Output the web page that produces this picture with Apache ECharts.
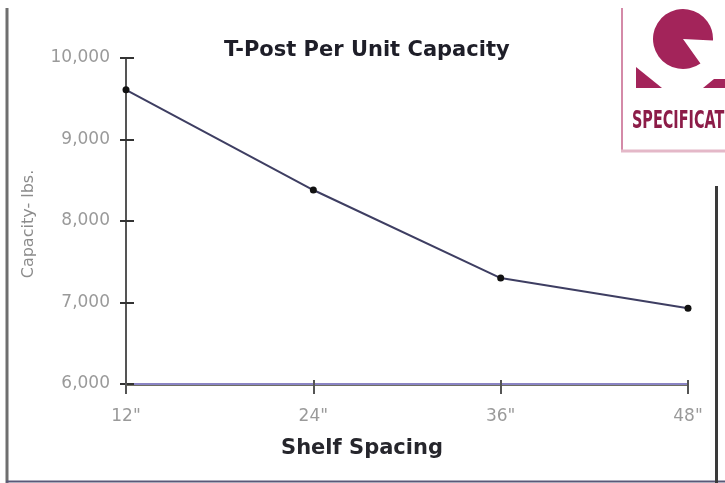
<!DOCTYPE html>
<html>
<head>
<meta charset="utf-8">
<script src="https://cdn.jsdelivr.net/npm/echarts@6/dist/echarts.min.js"></script>
<style>
html,body{margin:0;padding:0;background:#fff;}
#chart{width:725px;height:483px;}
</style>
</head>
<body>
<div id="chart"></div>
<script>
// ---- data ----
var categories = ['12"', '24"', '36"', '48"'];
var capacityValues = [9610, 8380, 7300, 6930];
var yTickValues = [6000, 7000, 8000, 9000, 10000];

var titleText = 'T-Post Per Unit Capacity';
var xAxisName = 'Shelf Spacing';
var yAxisName = 'Capacity- lbs.';

var FONT = '"DejaVu Sans", "Liberation Sans", sans-serif';
var chart = echarts.init(document.getElementById('chart'), null, {renderer: 'canvas'});

var yMin = yTickValues[0], yMax = yTickValues[yTickValues.length - 1];
var yInterval = yTickValues[1] - yTickValues[0];

function fmt(v) { return String(v).replace(/\B(?=(\d{3})+(?!\d))/g, ','); }

var logoColor = '#a3245a';

var option = {
  backgroundColor: '#ffffff',
  animation: false,
  title: {
    text: titleText,
    left: 219,
    top: 35,
    textStyle: {fontFamily: FONT, fontSize: 21, fontWeight: 'bold', color: '#1e1e28'}
  },
  grid: {left: 126, right: 37, top: 58, bottom: 99, containLabel: false},
  xAxis: [{
    type: 'category',
    data: categories,
    boundaryGap: false,
    axisLine: {show: true, lineStyle: {color: '#8a84c4', width: 2}},
    axisTick: {show: true, alignWithLabel: true, length: 10, lineStyle: {color: '#555', width: 2}},
    axisLabel: {margin: 24, fontFamily: FONT, fontSize: 17, color: '#9a9a9a'},
    splitLine: {show: false}
  }, {
    type: 'category',
    data: categories,
    boundaryGap: false,
    position: 'bottom',
    offset: 1,
    axisLine: {show: true, lineStyle: {color: '#6e6e62', width: 1}},
    axisTick: {show: true, inside: true, length: 5, lineStyle: {color: '#555', width: 2}},
    axisLabel: {show: false},
    splitLine: {show: false}
  }],
  yAxis: [{
    type: 'value',
    min: yMin, max: yMax, interval: yInterval,
    axisLine: {show: true, lineStyle: {color: '#555555', width: 2}},
    axisTick: {show: true, length: 6, lineStyle: {color: '#333', width: 2}},
    axisLabel: {margin: 16, fontFamily: FONT, fontSize: 17, color: '#9a9a9a', formatter: fmt},
    splitLine: {show: false}
  }, {
    type: 'value',
    position: 'left',
    min: yMin, max: yMax, interval: yInterval,
    axisLine: {show: false},
    axisTick: {show: true, inside: true, length: 8, lineStyle: {color: '#333', width: 2}},
    axisLabel: {show: false},
    splitLine: {show: false}
  }],
  series: [{
    type: 'line',
    data: capacityValues,
    xAxisIndex: 0, yAxisIndex: 0,
    lineStyle: {color: '#3e3e62', width: 2},
    symbol: 'circle',
    symbolSize: 7,
    itemStyle: {color: '#111111'},
    label: {show: false}
  }],
  graphic: [
    // outer frame pieces
    {type: 'line', shape: {x1: 7, y1: 8, x2: 7, y2: 483}, style: {stroke: '#6f6f6f', lineWidth: 3}},
    {type: 'line', shape: {x1: 6, y1: 481.5, x2: 725, y2: 481.5}, style: {stroke: '#5a5878', lineWidth: 2}},
    {type: 'line', shape: {x1: 716.5, y1: 186, x2: 716.5, y2: 483}, style: {stroke: '#3a3a3a', lineWidth: 3}},
    // axis names
    {type: 'text', x: 362, y: 449, style: {text: xAxisName, font: 'bold 21px ' + FONT, fill: '#26262c', textAlign: 'center', textVerticalAlign: 'middle'}},
    {type: 'text', x: 29, y: 224, rotation: Math.PI / 2, style: {text: yAxisName, font: '16px ' + FONT, fill: '#8c8c8c', textAlign: 'center', textVerticalAlign: 'middle'}},
    // logo box
    {type: 'line', shape: {x1: 622, y1: 8, x2: 622, y2: 152}, style: {stroke: '#d48aa8', lineWidth: 2}},
    {type: 'line', shape: {x1: 621, y1: 151, x2: 725, y2: 151}, style: {stroke: '#e4b8c8', lineWidth: 3}},
    {type: 'sector', shape: {cx: 683, cy: 39, r: 30, r0: 0, startAngle: 0.95, endAngle: 0.05 + Math.PI * 2, clockwise: true}, style: {fill: logoColor}},
    {type: 'polygon', shape: {points: [[636, 67], [636, 88], [662, 88]]}, style: {fill: logoColor}},
    {type: 'polygon', shape: {points: [[703, 88], [714, 79], [726, 79], [726, 88]]}, style: {fill: logoColor}},
    {type: 'text', x: 632, y: 110, scaleX: 0.6, style: {text: 'SPECIFICATIONS', font: '900 24px ' + FONT, fill: '#8c1c48', textVerticalAlign: 'top'}}
  ]
};
chart.setOption(option);
</script>
</body>
</html>
